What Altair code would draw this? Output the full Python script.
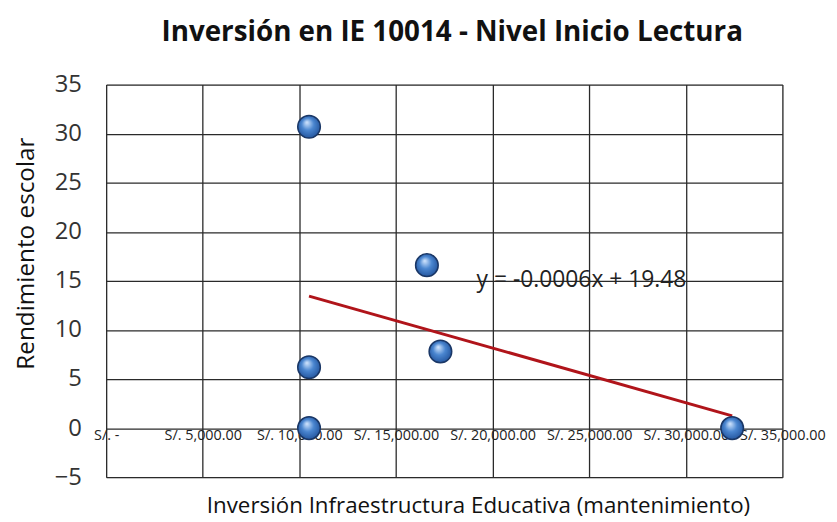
import altair as alt
import pandas as pd

inversion = [10500, 10500, 10500, 16600, 17300, 32400]
rendimiento = [30.7, 6.2, 0.0, 16.6, 7.8, 0.0]

eq_text = ["y = -0.0006x + 19.48"]
eq_x = [24600]
eq_y = [15.1]

df = pd.DataFrame({"inv": inversion, "rend": rendimiento})
df_eq = pd.DataFrame({"t": eq_text, "x": eq_x, "y": eq_y})

FONT = "Open Sans"

x_scale = alt.Scale(domain=[0, 35000], nice=False, zero=False)
y_scale = alt.Scale(domain=[-5, 35], nice=False, zero=False)

x_enc = alt.X(
    "inv:Q",
    scale=x_scale,
    title="Inversión Infraestructura Educativa (mantenimiento)",
    axis=alt.Axis(
        values=[0, 5000, 10000, 15000, 20000, 25000, 30000, 35000],
        labelExpr="datum.value == 0 ? 'S/. -' : 'S/. ' + format(datum.value, ',.2f')",
        offset=-50,
        domain=False,
        ticks=False,
        labelOverlap=False,
        labelFlush=False,
        labelPadding=1,
        labelFontSize=14.5,
        labelFont=FONT,
        labelColor="#222",
        titlePadding=53,
        titleX=375,
        titleAlign="center",
        titleFontSize=22.5,
        titleFont=FONT,
        titleFontWeight="normal",
        titleColor="#111",
        gridColor="#2a2a2a",
        gridWidth=1.3,
    ),
)
y_enc = alt.Y(
    "rend:Q",
    scale=y_scale,
    title="Rendimiento escolar",
    axis=alt.Axis(
        values=[-5, 0, 5, 10, 15, 20, 25, 30, 35],
        domain=False,
        ticks=False,
        labelPadding=25,
        labelFontSize=24,
        labelFont=FONT,
        labelColor="#333",
        titlePadding=16,
        titleY=170,
        titleAlign="center",
        titleFontSize=24.5,
        titleFont=FONT,
        titleFontWeight="normal",
        titleColor="#111",
        gridColor="#2a2a2a",
        gridWidth=1.3,
    ),
)

base = alt.Chart(df)

points = base.mark_circle(
    size=520,
    opacity=1,
    stroke="#1a3766",
    strokeWidth=1.5,
    color=alt.Gradient(
        gradient="radial",
        stops=[
            alt.GradientStop(color="#d6e8ff", offset=0),
            alt.GradientStop(color="#4a86d0", offset=0.45),
            alt.GradientStop(color="#1b4a92", offset=1),
        ],
        x1=0.4, y1=0.3, r1=0.0,
        x2=0.5, y2=0.5, r2=0.6,
    ),
).encode(x=x_enc, y=y_enc)

trend = base.transform_regression("inv", "rend").mark_line(
    color="#b0141a", strokeWidth=3
).encode(x=alt.X("inv:Q", scale=x_scale), y=alt.Y("rend:Q", scale=y_scale))

eq = alt.Chart(df_eq).mark_text(
    font=FONT, fontSize=23, color="#222"
).encode(
    x=alt.X("x:Q", scale=x_scale),
    y=alt.Y("y:Q", scale=y_scale),
    text="t:N",
)

chart = (
    alt.layer(trend, points, eq)
    .properties(
        width=682,
        height=396,
        autosize=alt.AutoSizeParams(type="none"),
        padding={"left": 99, "top": 75, "right": 47, "bottom": 43},
        title=alt.TitleParams(
            "Inversión en IE 10014 - Nivel Inicio Lectura",
            font=FONT,
            fontSize=28,
            fontWeight="bold",
            color="#111",
            anchor="middle",
            offset=26,
            dx=8,
        ),
    )
    .configure_view(stroke="#2a2a2a", strokeWidth=1.3)
    .configure(background="white")
)

chart.save("out.html", embed_options={"renderer": "svg", "actions": False})
